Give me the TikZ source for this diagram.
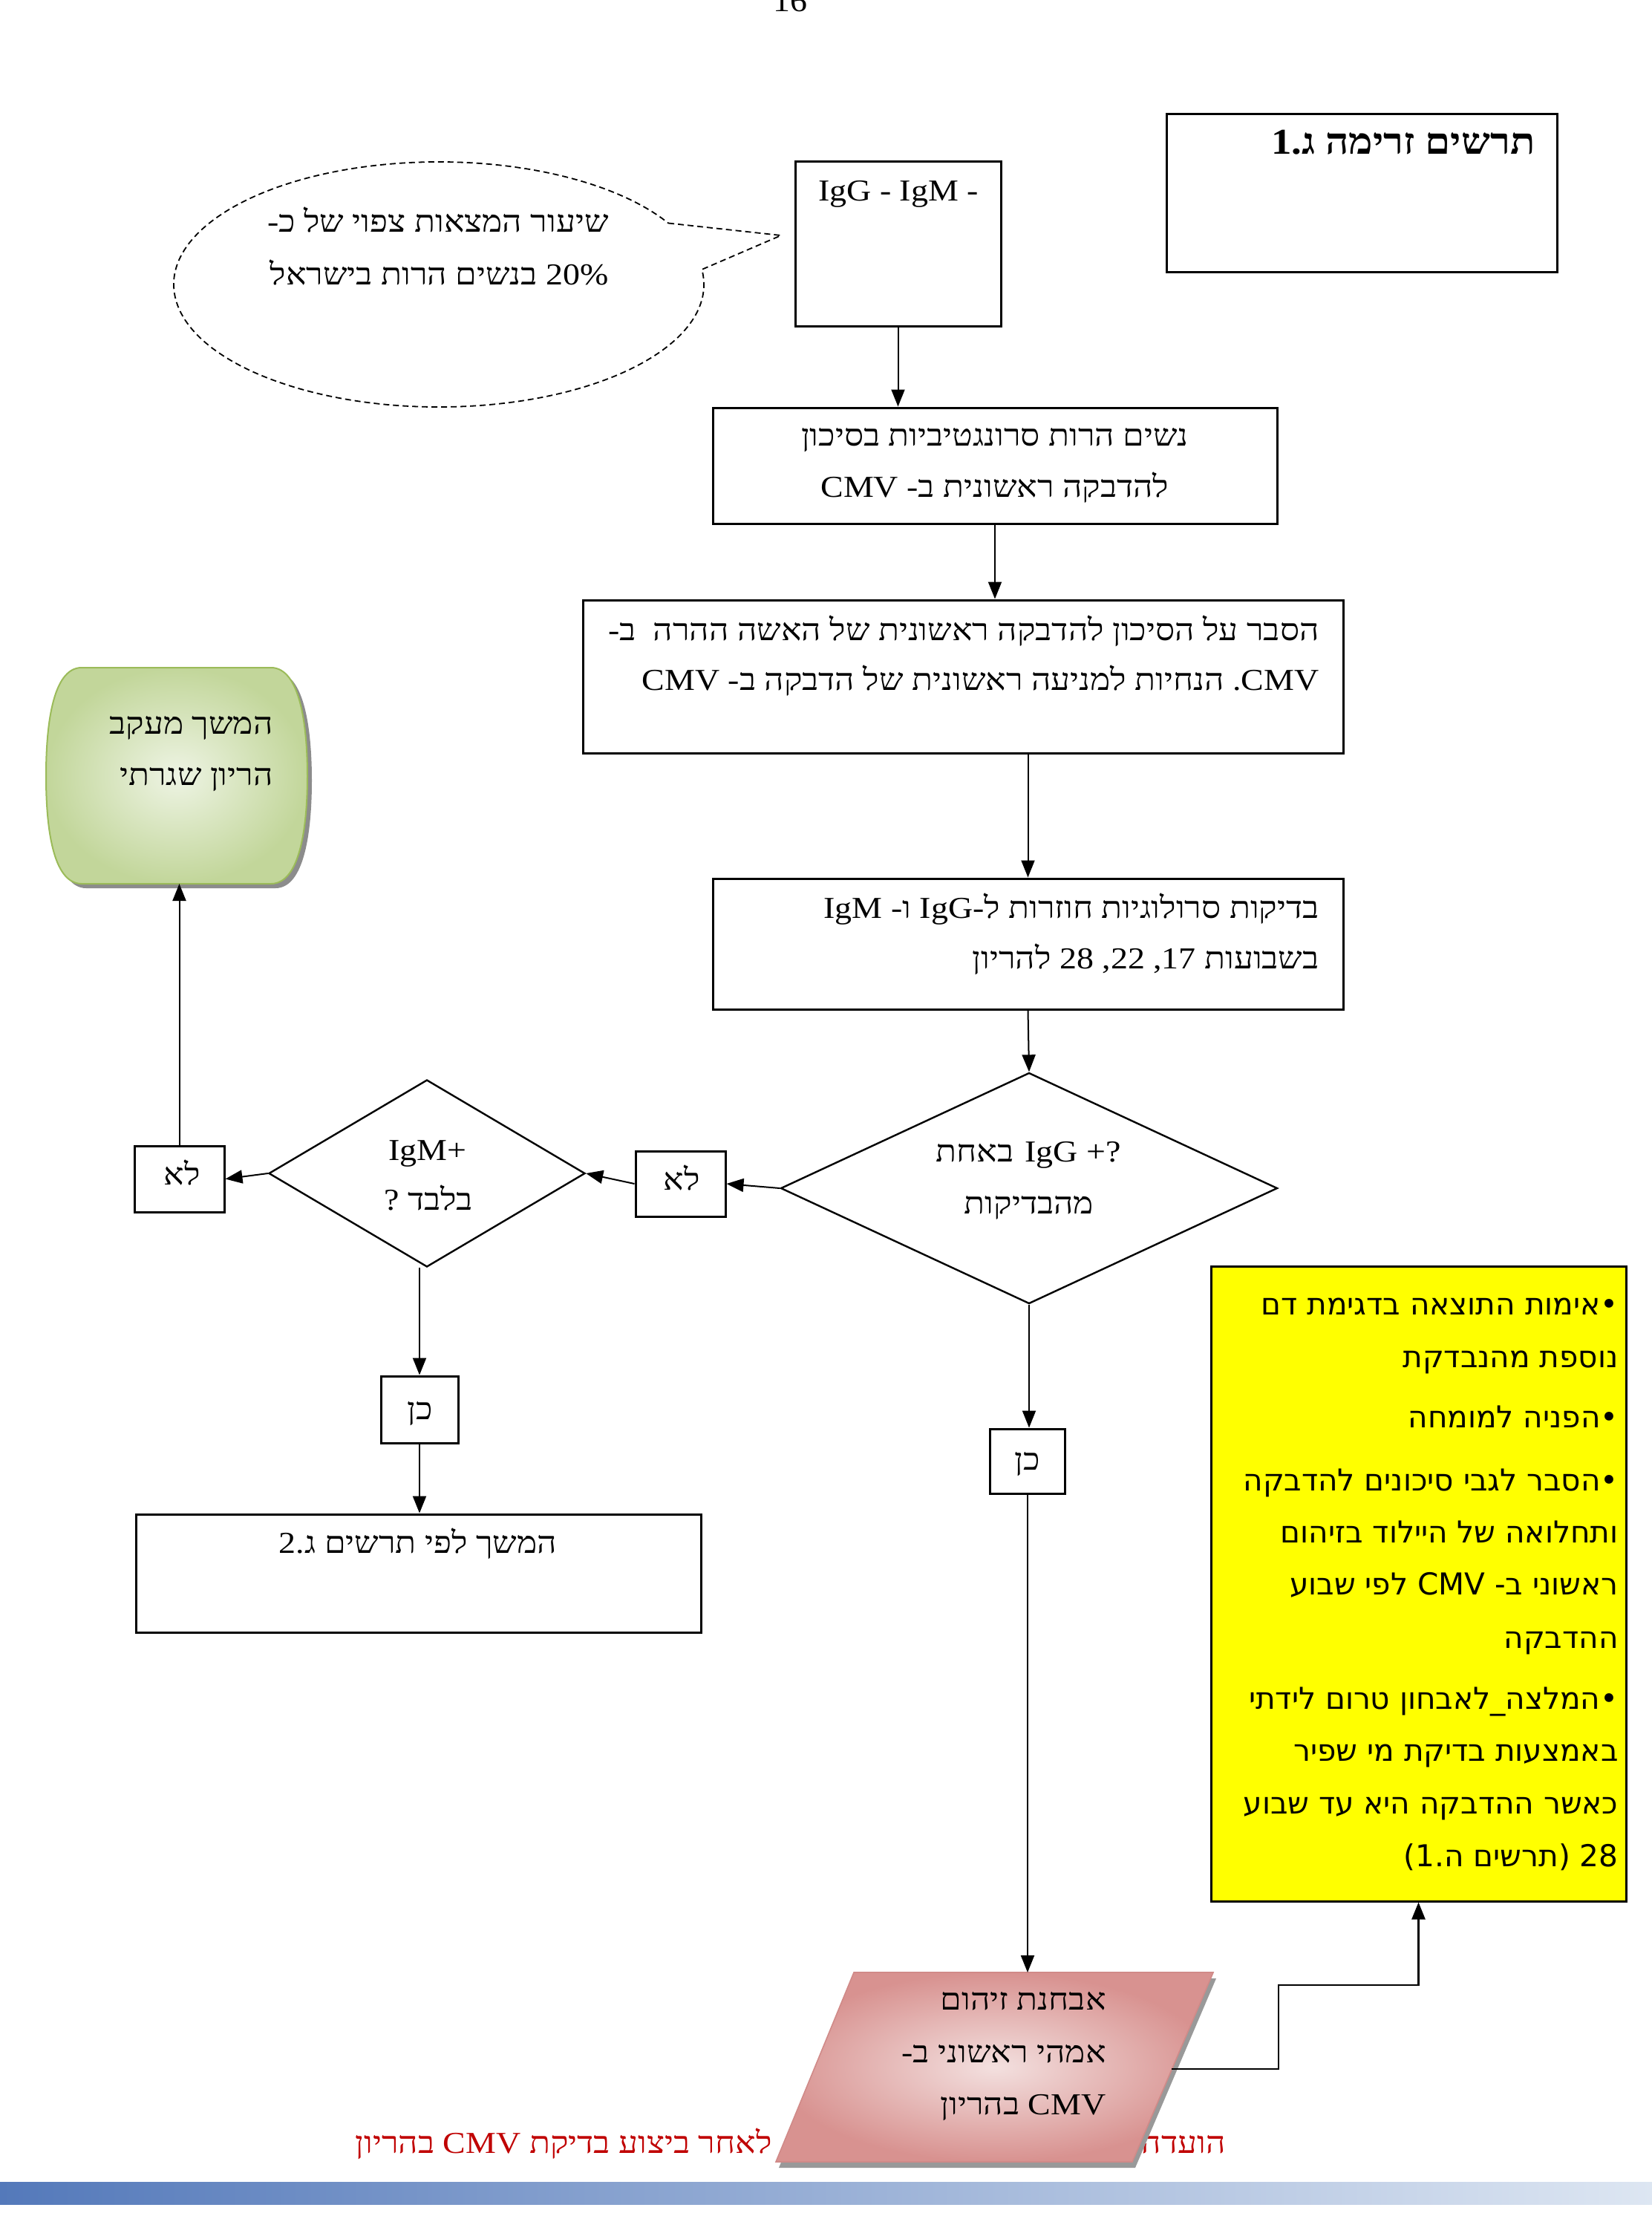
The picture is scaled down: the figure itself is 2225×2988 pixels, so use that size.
\documentclass[tikz,border=0pt]{standalone}
\usepackage{fontspec}
\usetikzlibrary{arrows.meta,shapes.geometric}
\TeXXeTstate=1
\newfontfamily\mfam[Script=Hebrew,FakeStretch=1.12]{Liberation Serif}
\newfontfamily\yfam[Script=Hebrew]{DejaVu Sans}
\newcommand\heb[1]{\beginR #1\endR}
\newcommand\lat[1]{\beginL #1\endL}
\newcommand\mtxt{\mfam\fontsize{20.5}{24}\selectfont}
\newcommand\ttxt{\mfam\bfseries\fontsize{24.5}{28}\selectfont}
\newcommand\ytxt{\yfam\fontsize{20.3}{24}\selectfont}
\definecolor{ybox}{HTML}{FFFF00}
\definecolor{redtxt}{HTML}{C00000}
\definecolor{grline}{HTML}{9BBB59}
\definecolor{grlight}{HTML}{EEF4E4}
\definecolor{grdark}{HTML}{C2D69A}
\definecolor{pklight}{HTML}{F3E0DF}
\definecolor{pkdark}{HTML}{D89290}
\definecolor{pkline}{HTML}{D08A88}
\definecolor{barL}{HTML}{5479BA}
\definecolor{barR}{HTML}{DDE6F2}
\begin{document}
\begin{tikzpicture}[x=0.5pt,y=-0.5pt,
  box/.style={draw,line width=1.5pt,rectangle,inner sep=0pt},
  dia/.style={draw,line width=1.2pt,diamond,inner sep=0pt},
  txt/.style={inner sep=0pt,font=\mtxt},
  ytx/.style={inner sep=0pt,font=\ytxt,anchor=base east},
  arr/.style={line width=1pt,-{Triangle[length=11.5pt,width=9pt]}},
  callout/.style={line width=0.9pt,dash pattern=on 4pt off 2.5pt},
]
\fill[white] (0,0) rectangle (2225,2988);
\useasboundingbox (0,0) rectangle (2225,2988);

% page number
\node[txt,anchor=base] (pg) at (1064,15) {16};

% title box
\node[box,minimum width=263pt,minimum height=106.5pt] (tb) at (1834,259.5) {};
\node[inner sep=0pt,font=\ttxt,anchor=base east] (ttl) at (2068,207) {\heb{תרשים זרימה ג\kern0pt.\kern0pt1}};

% callout
\coordinate (tip) at (1052,317);
\path (591,383) ++(-30:357 and 165) coordinate (ca);
\path (591,383) ++(-7:357 and 165) coordinate (cb);
\draw[callout] (ca) -- (tip) -- (cb) arc[start angle=-7,end angle=330,x radius=357,y radius=165];
\node[txt,anchor=base east] (c1) at (820,312) {\heb{שיעור המצאות צפוי של כ\kern0pt-}};
\node[txt,anchor=base east] (c2) at (820,383) {\heb{\lat{20\%} בנשים הרות בישראל}};

% box 1
\node[box,minimum width=138.5pt,minimum height=111pt] (b1) at (1209.5,328) {};
\node[txt,anchor=base] (t1) at (1210,270) {IgG - IgM -};

% box 2
\node[box,minimum width=380pt,minimum height=78pt] (b2) at (1340,627) {};
\node[txt,anchor=base] (t2a) at (1340,600) {\heb{נשים הרות סרונגטיביות בסיכון}};
\node[txt,anchor=base] (t2b) at (1340,669) {\heb{להדבקה ראשונית ב\kern0pt- \lat{CMV}}};

% box 3
\node[box,minimum width=512pt,minimum height=103pt] (b3) at (1297,911) {};
\node[txt,anchor=base east] (t3a) at (1777,862) {\heb{הסבר על הסיכון להדבקה ראשונית של האשה ההרה\ \ ב\kern0pt-}};
\node[txt,anchor=base east] (t3b) at (1777,929) {\heb{\lat{CMV}\kern0pt. הנחיות למניעה ראשונית של הדבקה ב\kern0pt- \lat{CMV}}};

% box 4
\node[box,minimum width=424.5pt,minimum height=88pt] (b4) at (1384.5,1271) {};
\node[txt,anchor=base east] (t4a) at (1777,1236) {\heb{בדיקות סרולוגיות חוזרות ל\kern0pt-\kern0pt\lat{IgG} ו\kern0pt- \lat{IgM}}};
\node[txt,anchor=base east] (t4b) at (1777,1304) {\heb{בשבועות 17\kern0pt, 22\kern0pt, 28 להריון}};

% diamond 1
\node[dia,minimum width=334.5pt,minimum height=155.5pt] (d1) at (1386,1600) {};
\node[txt,anchor=base] (td1a) at (1385,1564) {\heb{\lat{IgG +\kern0pt?} באחת}};
\node[txt,anchor=base] (td1b) at (1386,1634) {\heb{מהבדיקות}};

% no 1
\node[box,minimum width=60.5pt,minimum height=44pt] (no1) at (916.5,1594) {};
\node[txt,anchor=base] (tno1) at (918,1602) {\heb{לא}};

% diamond 2
\node[dia,minimum width=213pt,minimum height=126pt] (d2) at (575,1580) {};
\node[txt,anchor=base] (td2a) at (576,1562) {IgM+};
\node[txt,anchor=base] (td2b) at (577,1629) {\heb{בלבד ?}};

% no 2
\node[box,minimum width=60.5pt,minimum height=44.5pt] (no2) at (241.5,1587.5) {};
\node[txt,anchor=base] (tno2) at (245,1595) {\heb{לא}};

% green terminal
\fill[black!45] (116,905) -- (371,905) .. controls (411,905) and (420,986) .. (420,1051) .. controls (420,1116) and (411,1196) .. (371,1196) -- (116,1196) .. controls (76,1196) and (68,1116) .. (68,1051) .. controls (68,986) and (76,905) .. (116,905) -- cycle;
\shade[inner color=grlight,outer color=grdark,draw=grline,line width=1pt]
  (110,899) -- (365,899) .. controls (405,899) and (414,980) .. (414,1045) .. controls (414,1110) and (405,1190) .. (365,1190) -- (110,1190) .. controls (70,1190) and (62,1110) .. (62,1045) .. controls (62,980) and (70,899) .. (110,899) -- cycle;
\coordinate (gbot) at (240,1190);
\node[txt,anchor=base east] (tg1) at (368,988) {\heb{המשך מעקב}};
\node[txt,anchor=base east] (tg2) at (368,1057) {\heb{הריון שגרתי}};

% yes 1 and box 5
\node[box,minimum width=52pt,minimum height=45pt] (yes1) at (565,1898) {};
\node[txt,anchor=base] (tyes1) at (566,1911) {\heb{כן}};
\node[box,minimum width=380.5pt,minimum height=79.5pt] (b5) at (563.5,2118.5) {};
\node[txt,anchor=base] (tb5) at (563,2091) {\heb{המשך לפי תרשים ג\kern0pt.\kern0pt2}};

% yes 2
\node[box,minimum width=50.5pt,minimum height=43.5pt] (yes2) at (1384,1967.5) {};
\node[txt,anchor=base] (tyes2) at (1384,1979) {\heb{כן}};

% yellow box
\node[box,fill=ybox,minimum width=279.5pt,minimum height=427.5pt] (yb) at (1910.5,2132.5) {};
\node[ytx] (y1) at (2180,1770) {\heb{•\kern0pt אימות התוצאה בדגימת דם}};
\node[ytx] (y2) at (2180,1841) {\heb{נוספת מהנבדקת}};
\node[ytx] (y3) at (2180,1922) {\heb{•\kern0pt הפניה למומחה}};
\node[ytx] (y4) at (2180,2007) {\heb{•\kern0pt הסבר לגבי סיכונים להדבקה}};
\node[ytx] (y5) at (2180,2077) {\heb{ותחלואה של היילוד בזיהום}};
\node[ytx] (y6) at (2180,2147) {\heb{ראשוני ב\kern0pt- \lat{CMV} לפי שבוע}};
\node[ytx] (y7) at (2180,2219) {\heb{ההדבקה}};
\node[ytx] (y8) at (2180,2301) {\heb{•\kern0pt המלצה\_לאבחון טרום לידתי}};
\node[ytx] (y9) at (2180,2371) {\heb{באמצעות בדיקת מי שפיר}};
\node[ytx] (y10) at (2180,2442) {\heb{כאשר ההדבקה היא עד שבוע}};
\node[ytx] (y11) at (2180,2513) {\heb{28 (\kern0pt תרשים ה\kern0pt.\kern0pt1\kern0pt)}};

% red footer text (partly hidden)
\node[txt,text=redtxt,anchor=base east] (r1) at (1651,2899) {\heb{הועדה}};
\node[txt,text=redtxt,anchor=base east] (r2) at (1040,2899) {\heb{לאחר ביצוע בדיקת \lat{CMV} בהריון}};

% parallelogram
\fill[black!40] (1154,2664) -- (1638,2664) -- (1529,2919) -- (1049,2919) -- cycle;
\shade[inner color=pklight,outer color=pkdark,draw=pkline,line width=0.8pt]
  (1150,2656) -- (1634,2656) -- (1525,2911) -- (1045,2911) -- cycle;
\coordinate (ptop) at (1386,2656);
\coordinate (pr) at (1578,2786);
\coordinate (j1) at (1722,2673);
\node[txt,anchor=base east] (p1) at (1490,2706) {\heb{אבחנת זיהום}};
\node[txt,anchor=base east] (p2) at (1490,2777) {\heb{אמהי ראשוני ב\kern0pt-}};
\node[txt,anchor=base east] (p3) at (1490,2847) {\heb{\lat{CMV} בהריון}};

% bottom bar
\shade[left color=barL,right color=barR] (0,2938) rectangle (2225,2968);

% connectors
\draw[arr] (b1.south) -- (b1.south |- b2.north);
\draw[arr] (b2.south) -- (b2.south |- b3.north);
\draw[arr] (b4.north |- b3.south) -- (b4.north);
\draw[arr] (b4.south) -- (d1.north);
\draw[arr] (d1.west) -- (no1.east);
\draw[arr] (no1.west) -- (d2.east);
\draw[arr] (d2.west) -- (no2.east);
\draw[arr] (no2.north) -- (no2.north |- gbot);
\draw[arr] (yes1.north |- d2.south) -- (yes1.north);
\draw[arr] (yes1.south) -- (yes1.south |- b5.north);
\draw[arr] (d1.south) -- (d1.south |- yes2.north);
\draw[arr] (yes2.south) -- (yes2.south |- ptop);
\draw[arr,line width=1.3pt] (pr) -| (j1) -| (yb.south);
\end{tikzpicture}
\end{document}
